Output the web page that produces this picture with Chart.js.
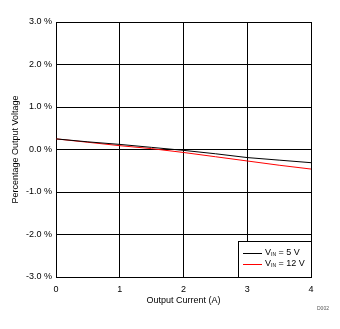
<!DOCTYPE html>
<html>
<head>
<meta charset="utf-8">
<script src="https://cdn.jsdelivr.net/npm/chart.js@4/dist/chart.umd.min.js"></script>
<style>
  html, body { margin: 0; padding: 0; background: #fff; }
  #wrap { width: 340px; height: 329px; }
</style>
</head>
<body>
<div id="wrap"><canvas id="chart" width="340" height="329"></canvas></div>
<script>
// output current (A)
const current = [0, 0.5, 1, 1.5, 2, 2.5, 3, 3.5, 4];
// percentage output voltage
const vin5 = [0.25, 0.18, 0.12, 0.05, -0.02, -0.10, -0.19, -0.25, -0.31];
const vin12 = [0.25, 0.17, 0.09, 0.02, -0.07, -0.17, -0.27, -0.37, -0.46];
const seriesNames = [['V', 'IN', ' = 5 V'], ['V', 'IN', ' = 12 V']];
const seriesColors = ['#000000', '#ff0000'];

const FONT = '"Liberation Sans", Arial, sans-serif';

// legend with subscripts, drawn by hand in the lower right corner
const legendBox = {
  id: 'legendBox',
  afterDraw(chart) {
    const ctx = chart.ctx;
    const a = chart.chartArea;
    const w = 73, h = 36;
    const x0 = a.right - w, y0 = a.bottom - h;
    ctx.save();
    ctx.fillStyle = '#fff';
    ctx.fillRect(x0, y0, w, h);
    ctx.strokeStyle = '#000';
    ctx.lineWidth = 1;
    ctx.strokeRect(x0 + 0.5, y0 + 0.5, w, h);
    chart.data.datasets.forEach((ds, i) => {
      const y = y0 + 12 + i * 11;
      ctx.strokeStyle = ds.borderColor;
      ctx.beginPath();
      ctx.moveTo(x0 + 5, y + 0.5);
      ctx.lineTo(x0 + 24, y + 0.5);
      ctx.stroke();
      const [v, sub, rest] = seriesNames[i];
      ctx.fillStyle = '#000';
      ctx.textBaseline = 'middle';
      ctx.font = '9px ' + FONT;
      let x = x0 + 27;
      ctx.fillText(v, x, y);
      x += ctx.measureText(v).width;
      ctx.font = '5px ' + FONT;
      ctx.fillText(sub, x, y + 2);
      x += ctx.measureText(sub).width;
      ctx.font = '9px ' + FONT;
      ctx.fillText(rest, x, y);
    });
    ctx.font = '5px ' + FONT;
    ctx.fillStyle = '#555';
    ctx.textBaseline = 'middle';
    ctx.fillText('D002', 317, 309);
    ctx.restore();
  }
};

new Chart(document.getElementById('chart').getContext('2d'), {
  type: 'line',
  data: {
    labels: current,
    datasets: [
      { label: 'VIN = 5 V', data: vin5, borderColor: seriesColors[0] },
      { label: 'VIN = 12 V', data: vin12, borderColor: seriesColors[1] }
    ]
  },
  options: {
    responsive: false,
    animation: false,
    devicePixelRatio: 1,
    layout: { padding: { top: 22, right: 29, left: 0, bottom: 19 } },
    elements: {
      point: { radius: 0 },
      line: { borderWidth: 1, tension: 0 }
    },
    scales: {
      x: {
        type: 'linear',
        min: 0,
        max: 4,
        ticks: { stepSize: 1, color: '#000', font: { size: 9, family: FONT }, padding: 7 },
        grid: { color: '#000', drawTicks: false },
        border: { color: '#000' },
        title: { display: true, text: 'Output Current (A)', color: '#000', font: { size: 9, family: FONT }, padding: { top: 0, bottom: 4 } },
        afterFit(scale) { scale.height = 33; }
      },
      y: {
        min: -3,
        max: 3,
        ticks: {
          stepSize: 1,
          color: '#000',
          font: { size: 9, family: FONT },
          padding: 4,
          callback: v => v.toFixed(1) + ' %'
        },
        grid: { color: '#000', drawTicks: false },
        border: { color: '#000' },
        title: { display: true, text: 'Percentage Output Voltage', color: '#000', font: { size: 9, family: FONT }, padding: { top: 10 } },
        afterFit(scale) { scale.width = 56; }
      }
    },
    plugins: {
      legend: { display: false },
      tooltip: { enabled: false }
    }
  },
  plugins: [legendBox]
});
</script>
</body>
</html>
